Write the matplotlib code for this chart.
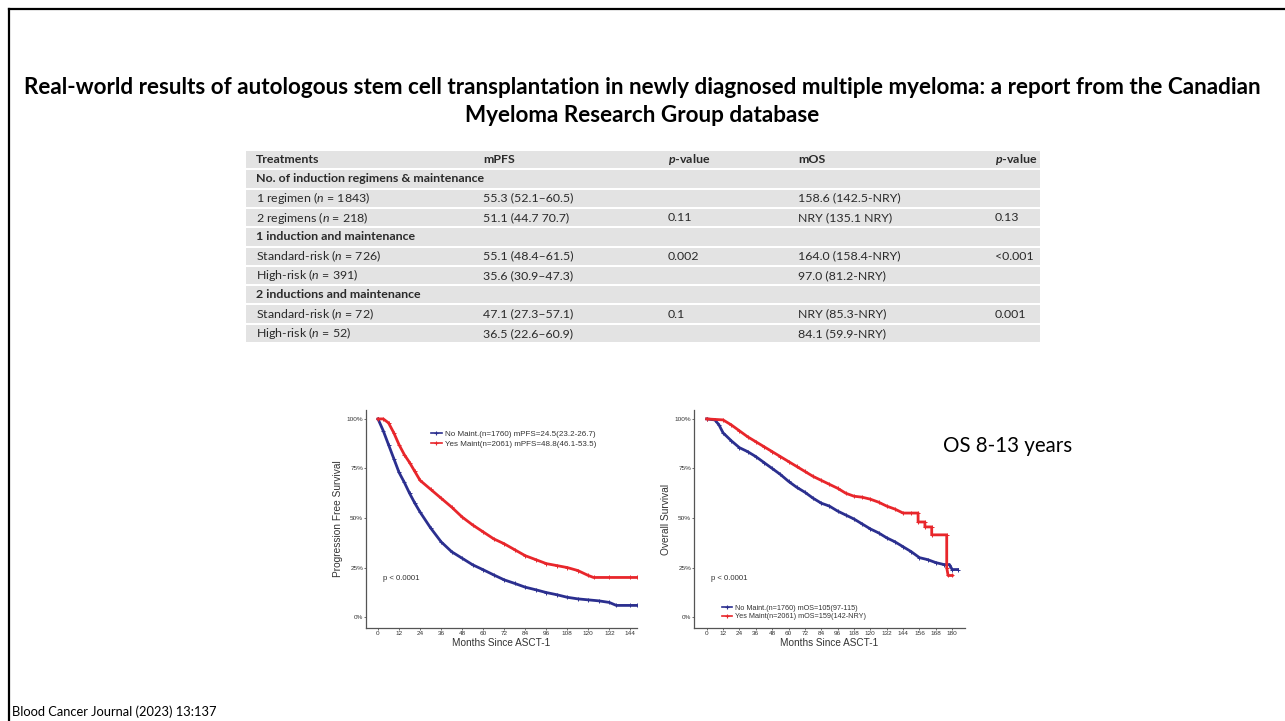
import matplotlib.pyplot as plt
import numpy as np
from matplotlib.lines import Line2D
from matplotlib.patches import Rectangle

plt.rcParams['font.family'] = ['Lato', 'DejaVu Sans']
plt.rcParams['mathtext.fontset'] = 'custom'
plt.rcParams['mathtext.rm'] = 'Lato'
plt.rcParams['mathtext.it'] = 'Lato:italic'
plt.rcParams['mathtext.bf'] = 'Lato:bold'
plt.rcParams['mathtext.bfit'] = 'Lato:italic:bold'

## table contents
table_header = ["Treatments", "mPFS", r"$\mathbfit{p}$-value", "mOS", r"$\mathbfit{p}$-value"]
row_labels = ["No. of induction regimens & maintenance",
              "1 regimen ($n$ = 1843)", "2 regimens ($n$ = 218)",
              "1 induction and maintenance",
              "Standard-risk ($n$ = 726)", "High-risk ($n$ = 391)",
              "2 inductions and maintenance",
              "Standard-risk ($n$ = 72)", "High-risk ($n$ = 52)"]
is_section = [True, False, False, True, False, False, True, False, False]
mpfs = ["", "55.3 (52.1–60.5)", "51.1 (44.7 70.7)", "", "55.1 (48.4–61.5)",
        "35.6 (30.9–47.3)", "", "47.1 (27.3–57.1)", "36.5 (22.6–60.9)"]
p_pfs = ["", "", "0.11", "", "0.002", "", "", "0.1", ""]
mos = ["", "158.6 (142.5-NRY)", "NRY (135.1 NRY)", "", "164.0 (158.4-NRY)",
       "97.0 (81.2-NRY)", "", "NRY (85.3-NRY)", "84.1 (59.9-NRY)"]
p_os = ["", "", "0.13", "", "<0.001", "", "", "0.001", ""]

## Kaplan-Meier curves (months, % surviving)
pfs_no_t = [0, 3, 6, 9, 12, 15, 18, 21, 24, 30, 36, 42, 48, 54, 60, 66, 72, 78, 84, 90,
            96, 102, 108, 114, 120, 126, 132, 136, 144, 148]
pfs_no_s = [100, 94, 87, 80, 73, 68, 62.5, 57.5, 53, 45, 38, 33, 29.7, 26.4, 23.9, 21.3,
            18.8, 17, 15.1, 13.8, 12.4, 11.3, 10, 9.2, 8.7, 8.2, 7.4, 5.9, 5.9, 5.9]
pfs_yes_t = [0, 3, 6, 9, 12, 15, 18, 21, 24, 30, 36, 42, 48, 54, 60, 66, 72, 78, 84, 90,
             96, 102, 108, 114, 120, 123, 132, 144, 148]
pfs_yes_s = [100, 100, 98, 93, 87, 82, 78, 73.5, 69, 64.5, 60, 55.5, 50.5, 46.5, 43,
             39.5, 37, 34, 31, 29, 27, 26, 25, 23.5, 21, 20, 20, 20, 20]

os_no_t = [0, 6, 9, 12, 18, 24, 30, 36, 42, 48, 54, 60, 66, 72, 78, 84, 90, 96, 102, 108,
           114, 120, 126, 132, 138, 144, 150, 156, 162, 168, 174, 178, 180, 184]
os_no_s = [100, 99.5, 97, 93, 89, 85.5, 83.5, 81, 78, 75, 72, 68.5, 65.5, 63, 60, 57.5,
           56, 53.5, 51.5, 49.5, 47, 44.5, 42.5, 40, 38, 35.5, 33, 30, 29, 27.5, 26.5,
           26.5, 24, 24]
os_yes_t = [0, 12, 18, 24, 30, 36, 42, 48, 54, 60, 66, 72, 78, 84, 90, 96, 102, 108, 114,
            120, 126, 132, 138, 144, 150, 155, 155, 160, 160, 165, 165, 176, 176, 177, 180]
os_yes_s = [100, 99.5, 97, 94, 91, 88.5, 86, 83.5, 81, 78.5, 76, 73.5, 71, 69, 67, 65,
            62.5, 61, 60.5, 59.5, 58, 56, 54.5, 52.5, 52.5, 52.5, 48, 48, 45.5, 45.5, 41.5,
            41.5, 25, 21, 21]

pfs_labels = ["No Maint.(n=1760) mPFS=24.5(23.2-26.7)", "Yes Maint(n=2061) mPFS=48.8(46.1-53.5)"]
os_labels = ["No Maint.(n=1760) mOS=105(97-115)", "Yes Maint(n=2061) mOS=159(142-NRY)"]

BLUE = "#2b2f8f"
RED = "#e8262b"
W, H = 1285, 721


def px_rect(x0, y0, x1, y1):
    return [x0 / W, 1 - y1 / H, (x1 - x0) / W, (y1 - y0) / H]


fig = plt.figure(figsize=(W / 100, H / 100), dpi=100)

# slide frame
fig.add_artist(Line2D([9 / W, 1], [1 - 9 / H, 1 - 9 / H], color="black", lw=1.6))
fig.add_artist(Line2D([9 / W, 9 / W], [0, 1 - 9 / H], color="black", lw=1.6))

fig.text(0.5, 1 - 87 / H,
         "Real-world results of autologous stem cell transplantation in newly diagnosed "
         "multiple myeloma: a report from the Canadian",
         ha="center", va="center", fontsize=16.2, fontweight="bold")
fig.text(0.5, 1 - 115 / H, "Myeloma Research Group database",
         ha="center", va="center", fontsize=16.2, fontweight="bold")

# table
tx0, ty0, tx1, ty1 = 246, 150, 1040, 343
tab = fig.add_axes(px_rect(tx0, ty0, tx1, ty1))
tab.set_xlim(tx0, tx1)
tab.set_ylim(ty1, ty0)
tab.axis("off")
n_rows = len(row_labels) + 1
rh = (ty1 - ty0) / n_rows
col_x = [256, 483, 668, 798, 995]
txt_col = "#2a2a2a"
for i in range(n_rows):
    tab.add_patch(Rectangle((tx0, ty0 + i * rh + 1), tx1 - tx0, rh - 2,
                            color="#e3e3e3", lw=0))
for x, h in zip(col_x, table_header):
    tab.text(x, ty0 + 0.5 * rh, h, fontsize=8.9, fontweight="bold", color=txt_col,
             va="center")
for i, lab in enumerate(row_labels):
    yc = ty0 + (i + 1.5) * rh
    tab.text(col_x[0], yc, lab, fontsize=8.9, color=txt_col, va="center",
             fontweight="bold" if is_section[i] else "normal")
    for x, val in zip(col_x[1:], (mpfs[i], p_pfs[i], mos[i], p_os[i])):
        if val:
            tab.text(x, yc, val, fontsize=8.9, color=txt_col, va="center")


def km_axes(rect, xmax, curves, labels, ylabel, legend_loc, legend_anchor, legend_size):
    ax = fig.add_axes(px_rect(*rect))
    ax.set_ylim(-5.5, 104.5)
    for (t, s), col in zip(curves, (BLUE, RED)):
        ax.plot(t, s, color=col, lw=2.0, marker="+", ms=2.5, mew=0.7)
    ax.set_xticks(np.arange(0, xmax + 1, 12))
    ax.set_yticks([0, 25, 50, 75, 100])
    ax.set_yticklabels(["0%", "25%", "50%", "75%", "100%"])
    ax.tick_params(labelsize=4.6, length=1.3, width=0.6, color="#555555",
                   labelcolor="#333333", pad=0.8)
    for sp in ("top", "right"):
        ax.spines[sp].set_visible(False)
    for sp in ("left", "bottom"):
        ax.spines[sp].set_color("#555555")
        ax.spines[sp].set_linewidth(0.9)
    ax.set_xlabel("Months Since ASCT-1", fontsize=7.2, family="Liberation Sans",
                  color="#333333")
    ax.set_ylabel(ylabel, fontsize=7.3, family="Liberation Sans", color="#333333")
    for lab in ax.get_xticklabels() + ax.get_yticklabels():
        lab.set_family("Liberation Sans")
    handles = [Line2D([], [], color=c, lw=1.2, marker="+", ms=3, mew=0.8)
               for c in (BLUE, RED)]
    ax.legend(handles, labels, loc=legend_loc, bbox_to_anchor=legend_anchor,
              frameon=False, prop={"family": "Liberation Sans", "size": legend_size},
              handlelength=1.3, handletextpad=0.4, labelspacing=0.25,
              borderpad=0, borderaxespad=0, labelcolor="#333333")
    ax.text(0.063, 0.229, "p < 0.0001", transform=ax.transAxes, fontsize=5.6,
            family="Liberation Sans", color="#333333", va="center")
    ax.yaxis.set_label_coords(-0.085, 0.5)
    ax.xaxis.set_label_coords(0.5, -0.046)
    return ax


ax1 = km_axes((366, 410, 637, 628), 144,
              [(pfs_no_t, pfs_no_s), (pfs_yes_t, pfs_yes_s)], pfs_labels,
              "Progression Free Survival", "upper left", (0.24, 0.907), 5.8)
ax1.set_xlim(-6.85, 147.8)

ax2 = km_axes((694, 410, 965, 628), 180,
              [(os_no_t, os_no_s), (os_yes_t, os_yes_s)], os_labels,
              "Overall Survival", "lower left", (0.105, 0.035), 5.2)
ax2.set_xlim(-9.3, 189.4)

fig.text(943 / W, 1 - 446 / H, "OS 8-13 years", fontsize=14.8, va="center")
fig.text(12 / W, 1 - 712 / H, "Blood Cancer Journal (2023) 13:137", fontsize=9.3,
         va="center")

fig.savefig("out.png", dpi=100)
